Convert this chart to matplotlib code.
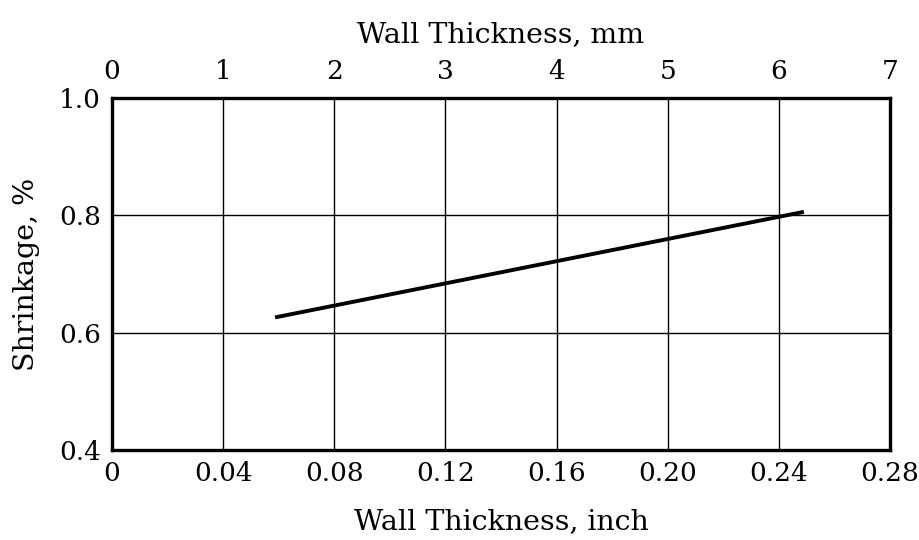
import matplotlib.pyplot as plt

# shrinkage vs wall thickness (inch)
thick_in = [0.0587, 0.249]
shrink = [0.626, 0.806]

x_ticks = [0, 0.04, 0.08, 0.12, 0.16, 0.20, 0.24, 0.28]
x_labels = ['0', '0.04', '0.08', '0.12', '0.16', '0.20', '0.24', '0.28']
mm_ticks = [0, 1, 2, 3, 4, 5, 6, 7]
y_ticks = [0.4, 0.6, 0.8, 1.0]
y_labels = ['0.4', '0.6', '0.8', '1.0']


def main():
    plt.rcParams['font.family'] = ['DejaVu Serif']
    plt.rcParams['font.size'] = 19

    fig = plt.figure(figsize=(9.2, 5.4), dpi=100)
    ax = fig.add_axes([0.1217, 0.1667, 0.9674 - 0.1217, 0.8185 - 0.1667])

    ax.plot(thick_in, shrink, color='black', lw=2.8, solid_capstyle='butt')

    ax.set_xlim(0, 0.28)
    ax.set_ylim(0.4, 1.0)
    ax.set_xticks(x_ticks)
    ax.set_xticklabels(x_labels)
    ax.set_yticks(y_ticks)
    ax.set_yticklabels(y_labels)
    ax.tick_params(length=0, pad=8)
    ax.grid(True, color='black', lw=1)
    for s in ax.spines.values():
        s.set_linewidth(2.4)

    ax.set_xlabel('Wall Thickness, inch', fontsize=20.5, labelpad=16)
    ax.set_ylabel('Shrinkage, %', fontsize=20.5, labelpad=14)

    top = ax.twiny()
    top.set_xlim(0, 7)
    top.set_xticks(mm_ticks)
    top.tick_params(length=0, pad=10)
    top.set_xlabel('Wall Thickness, mm', fontsize=20.5, labelpad=12)
    for s in top.spines.values():
        s.set_visible(False)

    fig.savefig('out.png', dpi=100)


if (__name__ == "__main__"):
    main()
